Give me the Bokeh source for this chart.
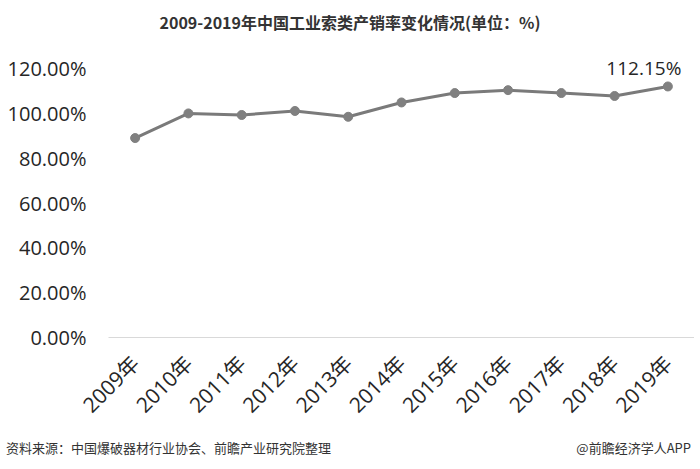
import math
from bokeh.plotting import figure
from bokeh.models import (ColumnDataSource, FactorRange, Range1d, Div,
                          PrintfTickFormatter, SingleIntervalTicker)
from bokeh.layouts import column
from bokeh.core.properties import value
from bokeh.embed import file_html
from bokeh.resources import INLINE

# ---- data ----
title_text = "2009-2019年中国工业索类产销率变化情况(单位：%)"
years = ["2009年", "2010年", "2011年", "2012年", "2013年", "2014年",
         "2015年", "2016年", "2017年", "2018年", "2019年"]
rates = [89.1, 100.1, 99.4, 101.2, 98.6, 105.0, 109.2, 110.5, 109.2, 107.9, 112.15]
source_text = "资料来源：中国爆破器材行业协会、前瞻产业研究院整理"
brand_text = "@前瞻经济学人APP"

FONT = "'Open Sans', 'Noto Sans CJK SC', sans-serif"
CJK = "'Noto Sans CJK SC', sans-serif"

W = 698
title_div = Div(
    text=f'<div style="width:{W}px;text-align:center;font-family:{CJK};padding-left:2px;'
         f'font-weight:bold;font-size:16px;line-height:44px;color:#333333;">{title_text}</div>',
    width=W, height=44, margin=(0, 0, 0, 0))

p = figure(title=None, frame_width=586, frame_height=291,
           x_range=FactorRange(*years), y_range=Range1d(0, 130),
           output_backend="svg", toolbar_location=None,
           min_border_left=108, min_border_right=0,
           min_border_top=2, min_border_bottom=98)
p.outline_line_color = None
p.background_fill_color = "white"
p.border_fill_color = "white"
p.xgrid.visible = False
p.ygrid.visible = False

src = ColumnDataSource(dict(x=years, y=rates))
p.line("x", "y", source=src, line_color="#7a7a7a", line_width=3)
p.scatter("x", "y", source=src, size=9, fill_color="#808080", line_color="#808080")

lab = ColumnDataSource(dict(x=[years[-1]], y=[rates[-1]], t=[f"{rates[-1]:.2f}%"]))
p.text("x", "y", text="t", source=lab, x_offset=-24, y_offset=-18,
       text_align="center", text_baseline="middle",
       text_font=value("Open Sans"), text_font_size="19px", text_color="#262626")

# y axis
p.yaxis.ticker = SingleIntervalTicker(interval=20)
p.yaxis.formatter = PrintfTickFormatter(format="%.2f%%")
p.yaxis.axis_line_color = None
p.yaxis.major_tick_line_color = None
p.yaxis.minor_tick_line_color = None
p.yaxis.major_label_standoff = 16
p.yaxis.major_label_text_font = FONT
p.yaxis.major_label_text_font_size = "20px"
p.yaxis.major_label_text_color = "#262626"

# x axis
p.xaxis.axis_line_color = "#d9d9d9"
p.xaxis.axis_line_width = 1
p.xaxis.major_tick_line_color = None
p.xaxis.minor_tick_line_color = None
p.xaxis.major_label_orientation = math.pi / 4
p.xaxis.major_label_standoff = 16
p.xaxis.major_label_text_font = FONT
p.xaxis.major_label_text_font_size = "21px"
p.xaxis.major_label_text_color = "#262626"

footer_div = Div(
    text=f'<div style="width:{W - 7}px;display:flex;justify-content:space-between;padding-left:6px;'
         f'font-family:{CJK};font-size:13px;line-height:26px;color:#333333;">'
         f'<span>{source_text}</span><span>{brand_text}</span></div>',
    width=W, height=26, margin=(0, 0, 0, 0))

layout = column(title_div, p, footer_div, spacing=0)
open("out.html", "w").write(file_html(layout, INLINE))
